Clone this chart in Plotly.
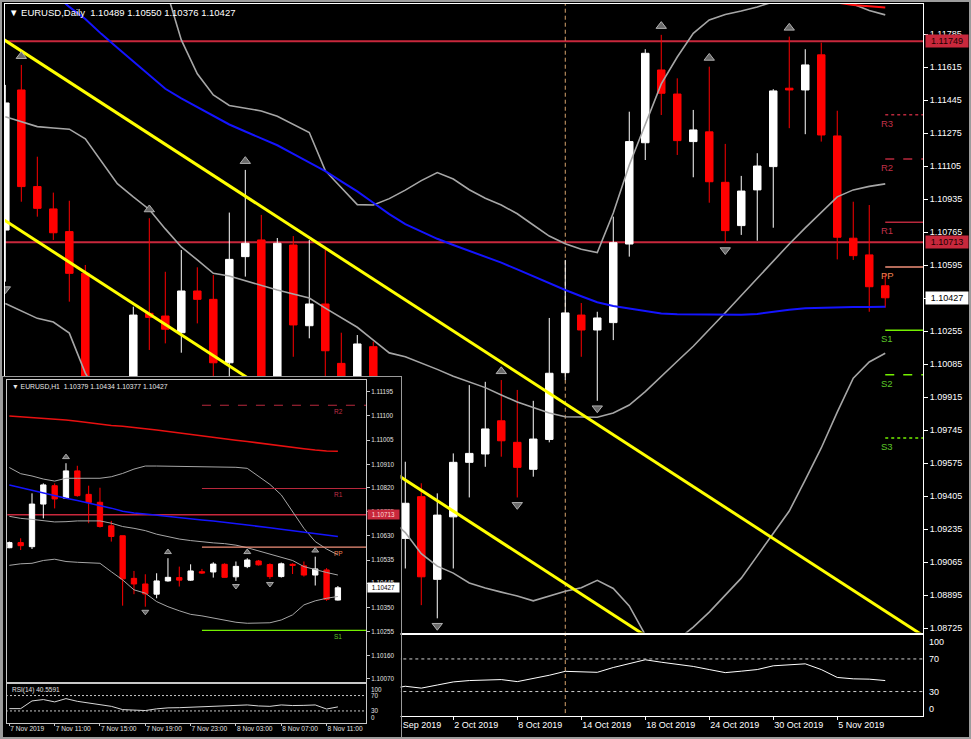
import plotly.graph_objects as go

# ================= DAILY (main chart) =================
daily_dates = ["23 Aug 2019", "26 Aug 2019", "27 Aug 2019", "28 Aug 2019", "29 Aug 2019", "30 Aug 2019",
               "2 Sep 2019", "3 Sep 2019", "4 Sep 2019", "5 Sep 2019", "6 Sep 2019", "9 Sep 2019",
               "10 Sep 2019", "11 Sep 2019", "12 Sep 2019", "13 Sep 2019", "16 Sep 2019", "17 Sep 2019",
               "18 Sep 2019", "19 Sep 2019", "20 Sep 2019", "23 Sep 2019", "24 Sep 2019", "25 Sep 2019",
               "26 Sep 2019", "27 Sep 2019", "30 Sep 2019", "1 Oct 2019", "2 Oct 2019", "3 Oct 2019",
               "4 Oct 2019", "7 Oct 2019", "8 Oct 2019", "9 Oct 2019", "10 Oct 2019", "11 Oct 2019",
               "14 Oct 2019", "15 Oct 2019", "16 Oct 2019", "17 Oct 2019", "18 Oct 2019", "21 Oct 2019",
               "22 Oct 2019", "23 Oct 2019", "24 Oct 2019", "25 Oct 2019", "28 Oct 2019", "29 Oct 2019",
               "30 Oct 2019", "31 Oct 2019", "1 Nov 2019", "4 Nov 2019", "5 Nov 2019", "6 Nov 2019",
               "7 Nov 2019", "8 Nov 2019"]
# date labels shown on the daily time axis (every 4th bar from 26 Sep; earlier ones sit under the inset)
daily_label_dates = ["26 Sep 2019", "2 Oct 2019", "8 Oct 2019", "14 Oct 2019", "18 Oct 2019",
                     "24 Oct 2019", "30 Oct 2019", "5 Nov 2019"]

daily_open = [1.10776, 1.11498, 1.11000, 1.10885, 1.10768, 1.10553, 1.09880, 1.09690, 1.09720, 1.10347,
              1.10333, 1.10247, 1.10462, 1.10419, 1.10092, 1.10639, 1.10725, 1.10000, 1.10699, 1.10283,
              1.10395, 1.10089, 1.09900, 1.10175, 1.09400, 1.09187, 1.09402, 1.08976, 1.09298, 1.09579,
              1.09622, 1.09793, 1.09682, 1.09543, 1.09697, 1.10041, 1.10338, 1.10261, 1.10299, 1.10704,
              1.11226, 1.11601, 1.11477, 1.11232, 1.11282, 1.11022, 1.10799, 1.10983, 1.11103, 1.11507,
              1.11498, 1.11679, 1.11261, 1.10734, 1.10648, 1.10489]
daily_high = [1.11524, 1.11627, 1.11154, 1.10969, 1.10927, 1.10596, 1.09940, 1.09860, 1.10381, 1.10837,
              1.10561, 1.10673, 1.10584, 1.10544, 1.10866, 1.11086, 1.10854, 1.10735, 1.10745, 1.10725,
              1.10673, 1.10247, 1.10235, 1.10201, 1.09600, 1.09582, 1.09471, 1.09419, 1.09625, 1.09977,
              1.09994, 1.10003, 1.09952, 1.09896, 1.10323, 1.10622, 1.10400, 1.10355, 1.10845, 1.11386,
              1.11708, 1.11782, 1.11558, 1.11395, 1.11618, 1.11220, 1.11055, 1.11172, 1.11502, 1.11773,
              1.11708, 1.11742, 1.11391, 1.10922, 1.10905, 1.10550]
daily_low = [1.10510, 1.10922, 1.10845, 1.10725, 1.10407, 1.09630, 1.09600, 1.09260, 1.09660, 1.10158,
             1.10192, 1.10144, 1.10295, 1.09980, 1.09270, 1.10536, 1.09900, 1.09900, 1.10123, 1.10218,
             1.09900, 1.09650, 1.09750, 1.09350, 1.09220, 1.09032, 1.08843, 1.08775, 1.09032, 1.09398,
             1.09556, 1.09608, 1.09398, 1.09505, 1.09682, 1.10003, 1.10123, 1.09896, 1.10209, 1.10639,
             1.11137, 1.11369, 1.11163, 1.11048, 1.10917, 1.10711, 1.10751, 1.10721, 1.10788, 1.11301,
             1.11270, 1.11232, 1.10625, 1.10622, 1.10355, 1.10376]
daily_close = [1.11431, 1.11000, 1.10888, 1.10762, 1.10553, 1.09880, 1.09700, 1.09730, 1.10338, 1.10326,
               1.10265, 1.10462, 1.10419, 1.10092, 1.10625, 1.10708, 1.10000, 1.10708, 1.10287, 1.10395,
               1.10154, 1.09900, 1.10189, 1.09400, 1.09200, 1.09368, 1.08989, 1.09307, 1.09579, 1.09625,
               1.09751, 1.09690, 1.09553, 1.09699, 1.10038, 1.10349, 1.10261, 1.10323, 1.10711, 1.11232,
               1.11687, 1.11481, 1.11237, 1.11292, 1.11025, 1.10773, 1.10977, 1.11106, 1.11493, 1.11498,
               1.11627, 1.11266, 1.10739, 1.10644, 1.10484, 1.10427]

daily_ma_blue = [1.12209, 1.12137, 1.12065, 1.11998, 1.11926, 1.11864, 1.11787, 1.11716, 1.11646, 1.11575,
                 1.11504, 1.11455, 1.11410, 1.11365, 1.11320, 1.11284, 1.11248, 1.11213, 1.11169, 1.11124,
                 1.11080, 1.11027, 1.10975, 1.10917, 1.10858, 1.10807, 1.10769, 1.10731, 1.10699, 1.10669,
                 1.10639, 1.10608, 1.10573, 1.10537, 1.10501, 1.10467, 1.10435, 1.10404, 1.10385, 1.10371,
                 1.10359, 1.10346, 1.10342, 1.10341, 1.10340, 1.10339, 1.10340, 1.10344, 1.10355, 1.10365,
                 1.10373, 1.10376, 1.10378, 1.10379, 1.10380, 1.10381]
daily_ma_red = [1.1232, 1.1231, 1.1230, 1.1229, 1.1228, 1.1227, 1.1226, 1.1225, 1.1224, 1.1223,
                1.1222, 1.1221, 1.1220, 1.1219, 1.1218, 1.1217, 1.1216, 1.1215, 1.1214, 1.1213,
                1.1212, 1.1211, 1.1210, 1.1209, 1.1208, 1.1207, 1.1206, 1.1205, 1.1204, 1.1203,
                1.1202, 1.1201, 1.1200, 1.1200, 1.1199, 1.1199, 1.1198, 1.1198, 1.1198, 1.1197,
                1.1197, 1.1197, 1.1196, 1.1196, 1.1196, 1.1196, 1.1195, 1.1195, 1.1195, 1.1195,
                1.1195, 1.1195, 1.11948, 1.11936, 1.11931, 1.11923]
daily_bb_upper = [1.12322, 1.12309, 1.12297, 1.12302, 1.12347, 1.12453, 1.12364, 1.12233, 1.12149, 1.12070,
                  1.12030, 1.11756, 1.11581, 1.11472, 1.11418, 1.11403, 1.11390, 1.11362, 1.11321, 1.11279,
                  1.11082, 1.10994, 1.10907, 1.10905, 1.10938, 1.10982, 1.11031, 1.11072, 1.11039, 1.10984,
                  1.10940, 1.10905, 1.10860, 1.10802, 1.10745, 1.10706, 1.10677, 1.10660, 1.10864, 1.11111,
                  1.11323, 1.11529, 1.11668, 1.11790, 1.11859, 1.11887, 1.11905, 1.11926, 1.11952, 1.11977,
                  1.11988, 1.11988, 1.11972, 1.11941, 1.11908, 1.11885]
daily_bb_mid = [1.11360, 1.11334, 1.11309, 1.11302, 1.11296, 1.11246, 1.11132, 1.11015, 1.10947, 1.10882,
                1.10782, 1.10689, 1.10622, 1.10553, 1.10539, 1.10515, 1.10488, 1.10467, 1.10446, 1.10426,
                1.10374, 1.10323, 1.10275, 1.10209, 1.10143, 1.10123, 1.10092, 1.10058, 1.10023, 1.09994,
                1.09964, 1.09926, 1.09890, 1.09861, 1.09833, 1.09814, 1.09812, 1.09811, 1.09833, 1.09874,
                1.09943, 1.10024, 1.10100, 1.10177, 1.10261, 1.10350, 1.10439, 1.10528, 1.10617, 1.10704,
                1.10787, 1.10869, 1.10947, 1.10983, 1.11001, 1.11014]
daily_bb_lower = [1.10398, 1.10359, 1.10321, 1.10302, 1.10245, 1.10039, 1.09900, 1.09797, 1.09745, 1.09694,
                  1.09694, 1.09668, 1.09642, 1.09617, 1.09591, 1.09591, 1.09565, 1.09539, 1.09513, 1.09488,
                  1.09462, 1.09410, 1.09359, 1.09323, 1.09292, 1.09217, 1.09108, 1.09044, 1.09008, 1.08957,
                  1.08931, 1.08910, 1.08890, 1.08865, 1.08890, 1.08915, 1.08933, 1.08971, 1.08929, 1.08839,
                  1.08690, 1.08611, 1.08663, 1.08730, 1.08807, 1.08893, 1.08982, 1.09097, 1.09212, 1.09328,
                  1.09488, 1.09653, 1.09838, 1.10013, 1.10096, 1.10141]
daily_rsi = [60, 52, 48, 45, 40, 33, 31, 32, 40, 39,
             38, 43, 42, 37, 46, 48, 42, 47, 44, 46,
             41, 38, 40, 35, 33, 36.5, 34.2, 38, 41.8, 43.5,
             44, 44.7, 42.2, 45.8, 50, 54.8, 54.2, 53.6, 59.5, 64.7,
             69, 66, 63.5, 60.8, 57, 53.2, 55, 57, 61.6, 63,
             64, 57, 47.3, 45.6, 45.2, 43.5]

# trend lines (bar index, price) anchors
trend_upper_x = [-1, 58]
trend_upper_y = [1.11806, 1.08652]
trend_lower_x = [-1, 58]
trend_lower_y = [1.10878, 1.07724]

# horizontal lines
hlines_daily = [1.11749, 1.10713]
vline_date = "11 Oct 2019"

# daily pivots
pivot_names = ["R3", "R2", "R1", "PP", "S1", "S2", "S3"]
pivot_values = [1.11370, 1.11142, 1.10816, 1.10586, 1.10260, 1.10030, 1.09704]

# fractals (bar indices)
frac_up_daily = [1, 9, 15, 31, 41, 44, 49]
frac_dn_daily = [0, 27, 32, 37, 45]

daily_yticks = [1.08725, 1.08895, 1.09065, 1.09235, 1.09405, 1.09575, 1.09745, 1.09915, 1.10085, 1.10255,
                1.10425, 1.10595, 1.10765, 1.10935, 1.11105, 1.11275, 1.11445, 1.11615, 1.11785]
last_daily = 1.10427

# ================= H1 (inset chart) =================
h1_times = ["7 Nov 07:00", "7 Nov 08:00", "7 Nov 09:00", "7 Nov 10:00", "7 Nov 11:00", "7 Nov 12:00",
            "7 Nov 13:00", "7 Nov 14:00", "7 Nov 15:00", "7 Nov 16:00", "7 Nov 17:00", "7 Nov 18:00",
            "7 Nov 19:00", "7 Nov 20:00", "7 Nov 21:00", "7 Nov 22:00", "7 Nov 23:00", "8 Nov 00:00",
            "8 Nov 01:00", "8 Nov 02:00", "8 Nov 03:00", "8 Nov 04:00", "8 Nov 05:00", "8 Nov 06:00",
            "8 Nov 07:00", "8 Nov 08:00", "8 Nov 09:00", "8 Nov 10:00", "8 Nov 11:00", "8 Nov 12:00"]
h1_tick_idx = [0, 4, 8, 12, 16, 20, 24, 28]
h1_tick_text = ["7 Nov 2019", "7 Nov 11:00", "7 Nov 15:00", "7 Nov 19:00", "7 Nov 23:00",
                "8 Nov 03:00", "8 Nov 07:00", "8 Nov 11:00"]
h1_open = [1.10584, 1.10604, 1.10588, 1.10755, 1.10827, 1.10778, 1.10885, 1.10793, 1.10762, 1.10670,
           1.10631, 1.10464, 1.10442, 1.10402, 1.10454, 1.10467, 1.10457, 1.10490, 1.10489, 1.10519,
           1.10470, 1.10510, 1.10532, 1.10518, 1.10471, 1.10519, 1.10513, 1.10477, 1.10497, 1.10379]
h1_high = [1.10608, 1.10621, 1.10797, 1.10836, 1.10836, 1.10915, 1.10905, 1.10827, 1.10819, 1.10689,
           1.10631, 1.10493, 1.10480, 1.10484, 1.10543, 1.10510, 1.10519, 1.10501, 1.10527, 1.10523,
           1.10530, 1.10543, 1.10536, 1.10523, 1.10526, 1.10523, 1.10530, 1.10549, 1.10504, 1.10434]
h1_low = [1.10582, 1.10575, 1.10579, 1.10699, 1.10738, 1.10775, 1.10784, 1.10680, 1.10663, 1.10608,
          1.10357, 1.10402, 1.10353, 1.10386, 1.10451, 1.10432, 1.10454, 1.10481, 1.10467, 1.10467,
          1.10454, 1.10504, 1.10514, 1.10462, 1.10467, 1.10481, 1.10471, 1.10436, 1.10376, 1.10377]
h1_close = [1.10604, 1.10592, 1.10755, 1.10830, 1.10775, 1.10885, 1.10788, 1.10761, 1.10667, 1.10628,
            1.10462, 1.10442, 1.10403, 1.10454, 1.10468, 1.10457, 1.10493, 1.10485, 1.10520, 1.10468,
            1.10511, 1.10536, 1.10517, 1.10471, 1.10521, 1.10515, 1.10477, 1.10501, 1.10382, 1.10427]
h1_ma_red = [1.11100, 1.11097, 1.11094, 1.11091, 1.11088, 1.11084, 1.11079, 1.11073, 1.11068, 1.11063,
             1.11060, 1.11056, 1.11050, 1.11045, 1.11039, 1.11034, 1.11028, 1.11022, 1.11017, 1.11011,
             1.11005, 1.11000, 1.10994, 1.10988, 1.10983, 1.10978, 1.10972, 1.10967, 1.10963, 1.10962]
h1_ma_blue = [1.10830, 1.10819, 1.10808, 1.10797, 1.10787, 1.10778, 1.10769, 1.10760, 1.10751, 1.10739,
              1.10727, 1.10720, 1.10716, 1.10711, 1.10706, 1.10702, 1.10697, 1.10693, 1.10689, 1.10684,
              1.10679, 1.10673, 1.10668, 1.10662, 1.10656, 1.10651, 1.10645, 1.10639, 1.10634, 1.10628]
h1_bb_upper = [1.10898, 1.10874, 1.10865, 1.10853, 1.10845, 1.10856, 1.10856, 1.10856, 1.10856, 1.10862,
               1.10875, 1.10892, 1.10904, 1.10904, 1.10903, 1.10902, 1.10902, 1.10900, 1.10900, 1.10899,
               1.10899, 1.10895, 1.10862, 1.10832, 1.10791, 1.10725, 1.10660, 1.10608, 1.10579, 1.10556]
h1_bb_mid = [1.10707, 1.10699, 1.10695, 1.10689, 1.10685, 1.10686, 1.10689, 1.10689, 1.10689, 1.10680,
             1.10667, 1.10660, 1.10651, 1.10637, 1.10628, 1.10618, 1.10612, 1.10607, 1.10603, 1.10600,
             1.10594, 1.10584, 1.10571, 1.10558, 1.10548, 1.10534, 1.10510, 1.10497, 1.10487, 1.10477]
h1_bb_lower = [1.10515, 1.10521, 1.10523, 1.10534, 1.10539, 1.10530, 1.10527, 1.10526, 1.10523, 1.10490,
               1.10458, 1.10419, 1.10406, 1.10373, 1.10353, 1.10337, 1.10323, 1.10317, 1.10308, 1.10299,
               1.10292, 1.10288, 1.10288, 1.10290, 1.10301, 1.10321, 1.10360, 1.10376, 1.10386, 1.10393]
h1_rsi = [36, 36, 56, 59.6, 53.5, 62, 55, 51, 45.6, 42,
          33.5, 31.5, 31, 35.5, 38, 38.5, 39.5, 40.5, 42, 43.5,
          44.5, 45.6, 43, 42, 45.6, 44, 44.5, 45.6, 35, 40.5591]
h1_pivot_start = 17
frac_up_h1 = [5, 14, 21, 27]
frac_dn_h1 = [12, 20, 23]
h1_yticks = [1.11195, 1.11100, 1.11005, 1.10910, 1.10820, 1.10725, 1.10630, 1.10535, 1.10445,
             1.10350, 1.10255, 1.10160, 1.10070]
h1_hline = 1.10713
last_h1 = 1.10427

# ================= styling / layout helpers =================
W, H = 971, 739
FONT = "Liberation Sans, Arial, DejaVu Sans, sans-serif"
def fx(p):
    return p / W
def fy(p):
    return 1 - p / H

GRAY_BB = "#a6a6a6"
BLUE = "#1414ff"
YELLOW = "#ffff00"
CRIMSON = "#c8283c"
R_COL = "#b8283c"
PP_COL = "#f0907a"
S_COL = "#74f000"
R_TXT = "#c03048"
PP_TXT = "#f08050"
S_TXT = "#5cc828"
pivot_line_col = [R_COL, R_COL, R_COL, PP_COL, S_COL, S_COL, S_COL]
pivot_txt_col = [R_TXT, R_TXT, R_TXT, PP_TXT, S_TXT, S_TXT, S_TXT]
pivot_dash = ["dot", "dash", "solid", "solid", "solid", "dash", "dot"]

bar_idx = list(range(len(daily_dates)))
h1_idx = list(range(len(h1_times)))
n_d = len(daily_dates)
daily_label_idx = [daily_dates.index(d) for d in daily_label_dates]

fig = go.Figure()

# ---------- main daily chart ----------
fig.add_trace(go.Candlestick(
    x=bar_idx, open=daily_open, high=daily_high, low=daily_low, close=daily_close,
    increasing=dict(line=dict(color="#ffffff", width=1), fillcolor="#ffffff"),
    decreasing=dict(line=dict(color="#ff0000", width=1), fillcolor="#ff0000"),
    whiskerwidth=0, xaxis="x", yaxis="y", hoverinfo="skip"))
for band in (daily_bb_upper, daily_bb_mid, daily_bb_lower):
    fig.add_trace(go.Scatter(x=bar_idx, y=band, mode="lines", line=dict(color=GRAY_BB, width=1.6),
                             xaxis="x", yaxis="y", hoverinfo="skip"))
fig.add_trace(go.Scatter(x=bar_idx, y=daily_ma_blue, mode="lines", line=dict(color=BLUE, width=2),
                         xaxis="x", yaxis="y", hoverinfo="skip"))
fig.add_trace(go.Scatter(x=bar_idx, y=daily_ma_red, mode="lines", line=dict(color="#ff1010", width=2),
                         xaxis="x", yaxis="y", hoverinfo="skip"))
for tx, ty in ((trend_upper_x, trend_upper_y), (trend_lower_x, trend_lower_y)):
    fig.add_trace(go.Scatter(x=tx, y=ty, mode="lines", line=dict(color=YELLOW, width=3),
                             xaxis="x", yaxis="y", hoverinfo="skip"))
for name, val, lc, dsh in zip(pivot_names, pivot_values, pivot_line_col, pivot_dash):
    fig.add_trace(go.Scatter(x=[n_d - 1, n_d + 3], y=[val, val], mode="lines",
                             line=dict(color=lc, width=1.5, dash=dsh), xaxis="x", yaxis="y", hoverinfo="skip"))
fig.add_trace(go.Scatter(x=frac_up_daily, y=[daily_high[j] + 0.00045 for j in frac_up_daily], mode="markers",
                         marker=dict(symbol="triangle-up", size=9, color="#6a6a6a",
                                     line=dict(color="#b0b0b0", width=1)),
                         xaxis="x", yaxis="y", hoverinfo="skip"))
fig.add_trace(go.Scatter(x=frac_dn_daily, y=[daily_low[j] - 0.00038 for j in frac_dn_daily], mode="markers",
                         marker=dict(symbol="triangle-down", size=9, color="#6a6a6a",
                                     line=dict(color="#b0b0b0", width=1)),
                         xaxis="x", yaxis="y", hoverinfo="skip"))

# ---------- main RSI ----------
fig.add_trace(go.Scatter(x=bar_idx, y=daily_rsi, mode="lines", line=dict(color="#ffffff", width=1),
                         xaxis="x2", yaxis="y2", hoverinfo="skip"))
for lvl in (70, 30):
    fig.add_trace(go.Scatter(x=[-1, n_d + 3], y=[lvl, lvl], mode="lines",
                             line=dict(color="#cfcfcf", width=1, dash="3px,3px"),
                             xaxis="x2", yaxis="y2", hoverinfo="skip"))

# ---------- cover subplot for inset ----------
fig.add_trace(go.Scatter(x=[], y=[], xaxis="x3", yaxis="y3", hoverinfo="skip"))

# ---------- inset H1 chart ----------
fig.add_trace(go.Candlestick(
    x=h1_idx, open=h1_open, high=h1_high, low=h1_low, close=h1_close,
    increasing=dict(line=dict(color="#ffffff", width=1), fillcolor="#ffffff"),
    decreasing=dict(line=dict(color="#ff0000", width=1), fillcolor="#ff0000"),
    whiskerwidth=0, xaxis="x4", yaxis="y4", hoverinfo="skip"))
for band in (h1_bb_upper, h1_bb_mid, h1_bb_lower):
    fig.add_trace(go.Scatter(x=h1_idx, y=band, mode="lines", line=dict(color=GRAY_BB, width=1),
                             xaxis="x4", yaxis="y4", hoverinfo="skip"))
fig.add_trace(go.Scatter(x=h1_idx, y=h1_ma_blue, mode="lines", line=dict(color=BLUE, width=1.5),
                         xaxis="x4", yaxis="y4", hoverinfo="skip"))
fig.add_trace(go.Scatter(x=h1_idx, y=h1_ma_red, mode="lines", line=dict(color="#e81010", width=1.5),
                         xaxis="x4", yaxis="y4", hoverinfo="skip"))
for name, val, lc, dsh in zip(pivot_names, pivot_values, pivot_line_col, pivot_dash):
    fig.add_trace(go.Scatter(x=[h1_pivot_start, len(h1_times) + 3], y=[val, val], mode="lines",
                             line=dict(color=lc, width=1.2, dash=dsh), xaxis="x4", yaxis="y4", hoverinfo="skip"))
fig.add_trace(go.Scatter(x=frac_up_h1, y=[h1_high[i] + 0.00024 for i in frac_up_h1], mode="markers",
                         marker=dict(symbol="triangle-up", size=6, color="#6a6a6a",
                                     line=dict(color="#a8a8a8", width=1)),
                         xaxis="x4", yaxis="y4", hoverinfo="skip"))
fig.add_trace(go.Scatter(x=frac_dn_h1, y=[h1_low[i] - 0.0002 for i in frac_dn_h1], mode="markers",
                         marker=dict(symbol="triangle-down", size=6, color="#6a6a6a",
                                     line=dict(color="#a8a8a8", width=1)),
                         xaxis="x4", yaxis="y4", hoverinfo="skip"))

# ---------- inset RSI ----------
fig.add_trace(go.Scatter(x=h1_idx, y=h1_rsi, mode="lines", line=dict(color="#d8d8d8", width=1),
                         xaxis="x5", yaxis="y5", hoverinfo="skip"))
for lvl in (70, 30):
    fig.add_trace(go.Scatter(x=[-1, len(h1_times) + 3], y=[lvl, lvl], mode="lines",
                             line=dict(color="#c8c8c8", width=1, dash="2px,2px"),
                             xaxis="x5", yaxis="y5", hoverinfo="skip"))

# ---------- shapes ----------
shapes = []
for v in hlines_daily:
    shapes.append(dict(type="line", xref="x", yref="y", x0=-1, x1=n_d + 3, y0=v, y1=v,
                       line=dict(color=CRIMSON, width=2), layer="below"))
vx = daily_dates.index(vline_date)
shapes.append(dict(type="line", xref="x", yref="y", x0=vx, x1=vx, y0=1.08, y1=1.13,
                   line=dict(color="#d9a56e", width=1, dash="4px,3px"), layer="below"))
shapes.append(dict(type="line", xref="x2", yref="y2", x0=vx, x1=vx, y0=-5, y1=105,
                   line=dict(color="#d9a56e", width=1, dash="4px,3px"), layer="below"))
shapes.append(dict(type="line", xref="x4", yref="y4", x0=-1, x1=len(h1_times) + 3, y0=h1_hline, y1=h1_hline,
                   line=dict(color=CRIMSON, width=1.5), layer="below"))
shapes.append(dict(type="rect", xref="paper", yref="paper", x0=0, x1=1, y0=0, y1=1,
                   line=dict(color="#9c9c9c", width=4), fillcolor="rgba(0,0,0,0)", layer="above"))

# ---------- annotations ----------
ann = []
ann.append(dict(xref="paper", yref="paper", x=fx(7), y=fy(13), xanchor="left", yanchor="middle",
                text="▼ EURUSD,Daily  1.10489 1.10550 1.10376 1.10427", showarrow=False,
                font=dict(family=FONT, size=9.5, color="#ffffff")))
for v in hlines_daily:
    ann.append(dict(xref="paper", yref="y", x=fx(925), y=v, xanchor="left", yanchor="middle",
                    text=f"{v:.5f}", showarrow=False, bgcolor=CRIMSON, width=40, height=10,
                    font=dict(family=FONT, size=9, color="#1a0000")))
ann.append(dict(xref="paper", yref="y", x=fx(925), y=last_daily, xanchor="left", yanchor="middle",
                text=f"{last_daily:.5f}", showarrow=False, bgcolor="#ffffff", width=40, height=10,
                font=dict(family=FONT, size=9, color="#000000")))
for name, val, tc in zip(pivot_names, pivot_values, pivot_txt_col):
    ann.append(dict(xref="x", yref="y", x=n_d - 1, y=val, xanchor="left", yanchor="top", xshift=-6,
                    yshift=-1, text=name, showarrow=False, font=dict(family=FONT, size=9.5, color=tc)))
for lvl, anc in ((100, "top"), (70, "middle"), (30, "middle"), (0, "bottom")):
    ann.append(dict(xref="paper", yref="y2", x=fx(927), y=lvl, xanchor="left", yanchor=anc,
                    text=str(lvl), showarrow=False, font=dict(family=FONT, size=9, color="#ffffff")))
ann.append(dict(xref="paper", yref="paper", x=fx(10), y=fy(386), xanchor="left", yanchor="middle",
                text="▼ EURUSD,H1  1.10379 1.10434 1.10377 1.10427", showarrow=False,
                font=dict(family=FONT, size=6.8, color="#e8e8e8")))
ann.append(dict(xref="paper", yref="paper", x=fx(10), y=fy(689.5), xanchor="left", yanchor="middle",
                text="RSI(14) 40.5591", showarrow=False, font=dict(family=FONT, size=6.5, color="#e0e0e0")))
ann.append(dict(xref="paper", yref="y4", x=fx(367), y=h1_hline, xanchor="left", yanchor="middle",
                text=f"{h1_hline:.5f}", showarrow=False, bgcolor=CRIMSON, width=29, height=7,
                font=dict(family=FONT, size=6.3, color="#ffd8d8")))
ann.append(dict(xref="paper", yref="y4", x=fx(367), y=last_h1, xanchor="left", yanchor="middle",
                text=f"{last_h1:.5f}", showarrow=False, bgcolor="#ffffff", width=29, height=7,
                font=dict(family=FONT, size=6.3, color="#000000")))
for name, val, tc in zip(pivot_names, pivot_values, pivot_txt_col):
    if 1.10058 < val < 1.11241:
        ann.append(dict(xref="x4 domain", yref="y4", x=0.905, y=val, xanchor="left", yanchor="top",
                        yshift=-1, text=name, showarrow=False, font=dict(family=FONT, size=6.5, color=tc)))
for lvl, anc in ((100, "top"), (70, "middle"), (30, "middle"), (0, "bottom")):
    ann.append(dict(xref="paper", yref="y5", x=fx(369), y=lvl, xanchor="left", yanchor=anc,
                    text=str(lvl), showarrow=False, font=dict(family=FONT, size=6.3, color="#e0e0e0")))

# ---------- axes ----------
main_xdom = [fx(5), fx(923)]
inset_xdom = [fx(7.3), fx(366)]
common = dict(showgrid=False, zeroline=False, fixedrange=True)

layout = dict(
    width=W, height=H, margin=dict(l=0, r=0, t=0, b=0),
    paper_bgcolor="#000000", plot_bgcolor="#000000", showlegend=False, hovermode=False,
    boxgap=0.33, shapes=shapes, annotations=ann,
    xaxis=dict(domain=main_xdom, range=[-0.02, 57.36], anchor="y", showticklabels=False, ticks="",
               showline=True, mirror=True, linecolor="#ffffff", linewidth=1,
               rangeslider=dict(visible=False), **common),
    yaxis=dict(domain=[fy(632.5), fy(4)], range=[1.08702, 1.11941], anchor="x", side="right",
               tickvals=daily_yticks, ticktext=[f"{v:.5f}" for v in daily_yticks],
               ticks="outside", ticklen=4, tickcolor="#ffffff",
               tickfont=dict(family=FONT, size=9, color="#ffffff"),
               showline=True, mirror=True, linecolor="#ffffff", linewidth=1, **common),
    xaxis2=dict(domain=main_xdom, range=[-0.02, 57.36], anchor="y2",
                tickvals=daily_label_idx, ticktext=daily_label_dates, ticklabelposition="outside right",
                tickangle=0, ticks="outside", ticklen=3, tickcolor="#ffffff",
                tickfont=dict(family=FONT, size=9, color="#ffffff"),
                showline=True, mirror=True, linecolor="#ffffff", linewidth=1, **common),
    yaxis2=dict(domain=[fy(716), fy(634.5)], range=[0, 100], anchor="x2", side="right",
                showticklabels=False, ticks="", showline=True, mirror=True, linecolor="#ffffff",
                linewidth=1, **common),
    xaxis3=dict(domain=[fx(2.5), fx(400.5)], range=[0, 1], anchor="y3", showticklabels=False, ticks="",
                showline=True, mirror=True, linecolor="#9a9a9a", linewidth=1, **common),
    yaxis3=dict(domain=[fy(737.5), fy(377)], range=[0, 1], anchor="x3", showticklabels=False, ticks="",
                showline=True, mirror=True, linecolor="#9a9a9a", linewidth=1, **common),
    xaxis4=dict(domain=inset_xdom, range=[-0.18, 31.48], anchor="y4", showticklabels=False, ticks="",
                showline=True, mirror=True, linecolor="#c8c8c8", linewidth=1,
                rangeslider=dict(visible=False), **common),
    yaxis4=dict(domain=[fy(682), fy(380)], range=[1.10058, 1.11241], anchor="x4", side="right",
                tickvals=h1_yticks, ticktext=[f"{v:.5f}" for v in h1_yticks],
                ticks="outside", ticklen=3, tickcolor="#c8c8c8",
                tickfont=dict(family=FONT, size=6.3, color="#e0e0e0"),
                showline=True, mirror=True, linecolor="#c8c8c8", linewidth=1, **common),
    xaxis5=dict(domain=inset_xdom, range=[-0.18, 31.48], anchor="y5",
                tickvals=h1_tick_idx, ticktext=h1_tick_text, ticklabelposition="outside right",
                tickangle=0, ticks="outside", ticklen=2, tickcolor="#c8c8c8",
                tickfont=dict(family=FONT, size=6.6, color="#e0e0e0"),
                showline=True, mirror=True, linecolor="#c8c8c8", linewidth=1, **common),
    yaxis5=dict(domain=[fy(722.5), fy(684)], range=[0, 100], anchor="x5", side="right",
                showticklabels=False, ticks="", showline=True, mirror=True, linecolor="#c8c8c8",
                linewidth=1, **common),
)
fig.update_layout(**layout)

fig.write_html("out.html", config={"displayModeBar": False},
               post_script="document.body.style.margin='0';document.body.style.overflow='hidden';")
